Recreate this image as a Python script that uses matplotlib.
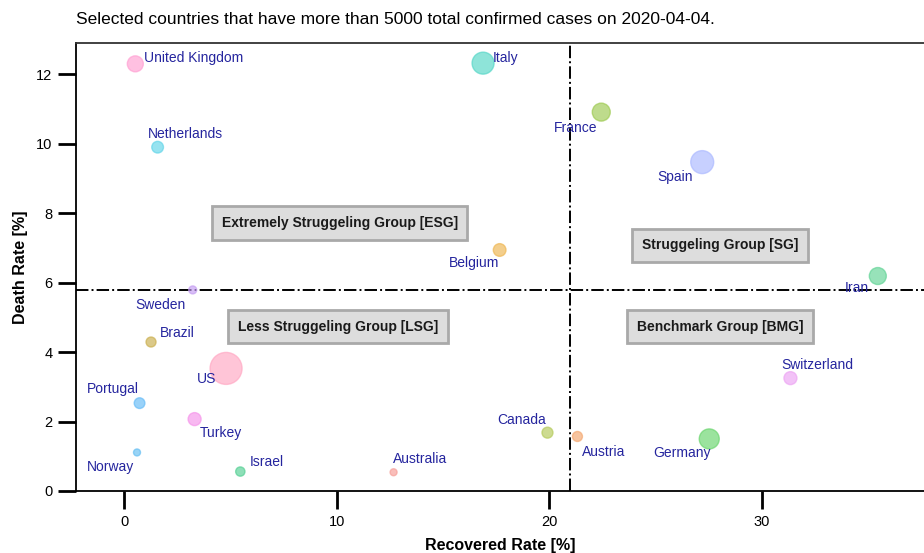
import matplotlib
matplotlib.use("Agg")
import matplotlib.pyplot as plt

plt.rcParams['font.family'] = ['Liberation Sans', 'DejaVu Sans']

# ---- data ----
countries = ["United Kingdom", "Italy", "France", "Netherlands", "Spain", "Belgium",
             "Iran", "Sweden", "Brazil", "US", "Switzerland", "Portugal", "Turkey",
             "Canada", "Austria", "Germany", "Norway", "Israel", "Australia"]
recovered_rate = [0.52, 16.88, 22.44, 1.57, 27.19, 17.66,
                  35.45, 3.22, 1.26, 4.79, 31.34, 0.72, 3.31,
                  19.91, 21.32, 27.52, 0.60, 5.46, 12.67]
death_rate = [12.30, 12.32, 10.91, 9.90, 9.47, 6.94,
              6.19, 5.79, 4.29, 3.53, 3.25, 2.53, 2.07,
              1.68, 1.57, 1.50, 1.11, 0.56, 0.54]
# relative bubble size (diameter units)
bubble_size = [16, 22, 18, 11.7, 23, 12.7,
               17, 8, 10, 32, 13, 10.7, 13,
               11, 10, 20, 7, 9.3, 7]
colors = ["#ff9ed2", "#52d6c6", "#9cc94e", "#5fd4e8", "#aab8ff", "#eeb54e",
          "#5fd394", "#c49cf2", "#c9ad4a", "#ffa6c2", "#eca2f3", "#62baf7", "#f592ea",
          "#b3c957", "#f4a56c", "#66d46a", "#62bdf2", "#52cf92", "#f69c96"]
# label offsets in pixels (dx, dy up) and alignment
label_offsets = [(9, 6, 'left'), (10, 5, 'left'), (-26, -16, 'center'), (-10, 13, 'left'),
                 (-27, -15, 'center'), (-26, -13, 'center'), (-21, -12, 'center'),
                 (-32, -15, 'center'), (9, 9, 'left'), (-20, -11, 'center'),
                 (27, 13, 'center'), (-27, 14, 'center'), (5, -14, 'left'),
                 (-26, 13, 'center'), (5, -16, 'left'), (-27, -14, 'center'),
                 (-27, -15, 'center'), (9, 10, 'left'), (-1, 13, 'left')]

x_threshold = 20.96
y_threshold = 5.79
groups = ["Extremely Struggeling Group [ESG]", "Less Struggeling Group [LSG]",
          "Struggeling Group [SG]", "Benchmark Group [BMG]"]
group_x = [10.13, 10.04, 28.03, 28.03]
group_y = [7.72, 4.73, 7.07, 4.73]

title = "Selected countries that have more than 5000 total confirmed cases on 2020-04-04."

# ---- figure ----
DPI = 100
fig = plt.figure(figsize=(9.24, 5.53), dpi=DPI)
ax = fig.add_axes([76/924, 62/553, 849/924, 448/553])
ax.set_xlim(-2.27, 37.67)
ax.set_ylim(0, 12.90)

px2pt = 72.0 / DPI
sizes = [(d * px2pt) ** 2 for d in bubble_size]
ax.scatter(recovered_rate, death_rate, s=sizes, c=colors, alpha=0.65,
           edgecolors=colors, linewidths=1.0, zorder=3)

for name, x, y, (dx, dy, ha) in zip(countries, recovered_rate, death_rate, label_offsets):
    ax.annotate(name, (x, y), xytext=(dx * px2pt, dy * px2pt), textcoords='offset points',
                ha=ha, va='center', fontsize=10, color='#25259e', zorder=4)

ax.axvline(x_threshold, color='black', linestyle='-.', linewidth=1.4, zorder=2)
ax.axhline(y_threshold, color='black', linestyle='-.', linewidth=1.4, zorder=2)

for g, gx, gy in zip(groups, group_x, group_y):
    ax.text(gx, gy, g, ha='center', va='center', fontsize=10, fontweight='bold',
            color='#1a1a1a', zorder=5,
            bbox=dict(boxstyle='square,pad=0.7', facecolor='#dddddd',
                      edgecolor='#a9a9a9', linewidth=2))

ax.set_xticks([0, 10, 20, 30])
ax.set_yticks([0, 2, 4, 6, 8, 10, 12])
ax.tick_params(axis='both', direction='out', length=13, width=2, labelsize=10.5,
               color='black', pad=4)
ax.spines['right'].set_visible(False)
for sp in ['left', 'bottom', 'top']:
    ax.spines[sp].set_linewidth(1.3)
ax.spines['top'].set_color('#333333')

ax.set_xlabel("Recovered Rate [%]", fontsize=11.5, fontweight='bold', labelpad=7)
ax.set_ylabel("Death Rate [%]", fontsize=11.5, fontweight='bold', labelpad=6)

fig.text(76/924, 1 - 20/553, title, ha='left', va='center', fontsize=12.5)

fig.savefig("out.png", dpi=DPI)
